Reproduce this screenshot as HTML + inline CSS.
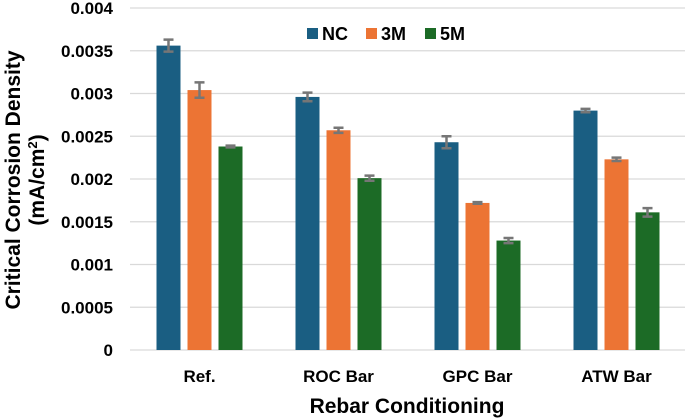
<!DOCTYPE html>
<html><head><meta charset="utf-8"><style>
body{margin:0;background:#fff}
svg{display:block;font-family:"Liberation Sans",Arial,sans-serif;font-weight:bold}
</style></head><body>
<svg id="c" width="685" height="418"></svg>
<script>
const categories=["Ref.","ROC Bar","GPC Bar","ATW Bar"];
const seriesNames=["NC","3M","5M"];
const ncValues=[0.00356,0.00296,0.00243,0.00280];
const m3Values=[0.00304,0.00257,0.00172,0.00223];
const m5Values=[0.00238,0.00201,0.00128,0.00161];
const ncErr=[0.00007,0.00005,0.00007,0.00002];
const m3Err=[0.00009,0.00003,0.00001,0.00002];
const m5Err=[0.00001,0.00003,0.00003,0.00005];
const yTicks=[0,0.0005,0.001,0.0015,0.002,0.0025,0.003,0.0035,0.004];
const yTickLabels=["0","0.0005","0.001","0.0015","0.002","0.0025","0.003","0.0035","0.004"];

const svg=document.getElementById('c');
const NS="http://www.w3.org/2000/svg";
function mk(t,a,p){const e=document.createElementNS(NS,t);for(const k in a)e.setAttribute(k,a[k]);(p||svg).appendChild(e);return e;}
const x0=130,catW=139,y0=350,yTop=8,yMax=0.004;
const y=v=>y0-(v/yMax)*(y0-yTop);
const colors=["#1a5e82","#ec7434","#1c6b26"];
const allVals=[ncValues,m3Values,m5Values],allErr=[ncErr,m3Err,m5Err];

yTicks.forEach((t,i)=>{
  const g=mk('line',{x1:x0,x2:685,y1:y(t),y2:y(t),stroke:'#d9d9d9','stroke-width':1.3});
  
  
  const l=mk('text',{x:113,y:y(t)+6,'text-anchor':'end','font-size':17,fill:'#000'});
  l.textContent=yTickLabels[i];
  
  
});
const bw=24,gap=7;
categories.forEach((c,i)=>{
  const cx=x0+catW*(i+0.5);
  allVals.forEach((vals,s)=>{
    const bx=cx-bw*1.5-gap+s*(bw+gap);
    const b=mk('rect',{x:bx,y:y(vals[i]),width:bw,height:y0-y(vals[i]),fill:colors[s]});
    
    
    const e=allErr[s][i],mx=bx+bw/2;
    const eb=mk('path',{d:`M${mx},${y(vals[i]+e)}V${y(vals[i]-e)}M${mx-5},${y(vals[i]+e)}H${mx+5}M${mx-5},${y(vals[i]-e)}H${mx+5}`,stroke:'#767676','stroke-width':2.5,fill:'none'});
    
    
  });
  const t=mk('text',{x:cx,y:382,'text-anchor':'middle','font-size':17});
  t.textContent=c;
  
  
});
seriesNames.forEach((n,s)=>{
  const lx=307+s*59;
  const r=mk('rect',{x:lx,y:28,width:11,height:11,fill:colors[s]});
  
  
  const t=mk('text',{x:lx+15,y:40,'font-size':18});
  t.textContent=n;
  
  
});
const xt=mk('text',{x:407,y:413,'text-anchor':'middle','font-size':21});
xt.textContent="Rebar Conditioning";


const yt=mk('text',{transform:'translate(20,180) rotate(-90)','text-anchor':'middle','font-size':21});
yt.textContent="Critical Corrosion Density";


const yt2=mk('text',{transform:'translate(44,180) rotate(-90)','text-anchor':'middle','font-size':21});
yt2.innerHTML='(mA/cm<tspan font-size="13" dy="-7">2</tspan><tspan dy="7">)</tspan>';


</script>
</body></html>
